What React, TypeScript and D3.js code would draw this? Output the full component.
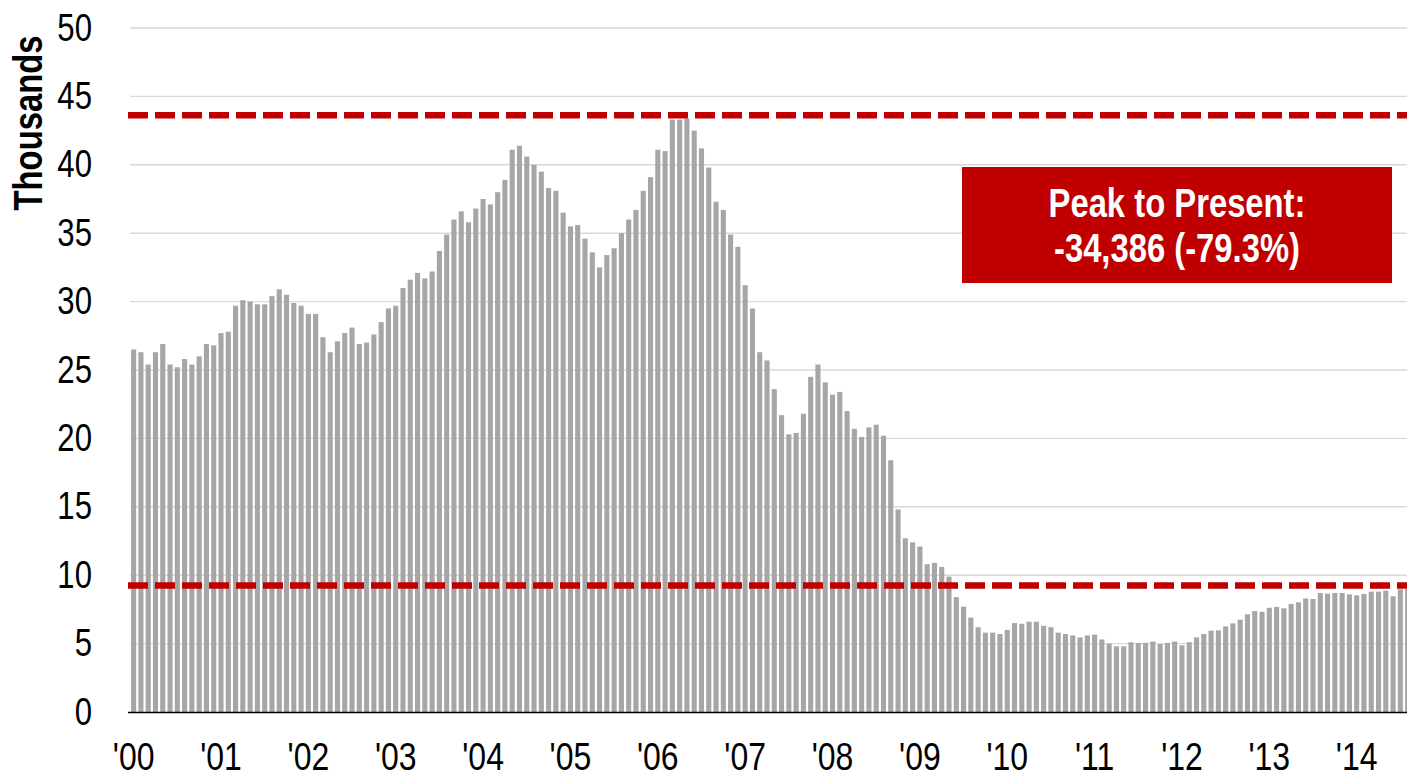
import React from 'react';
import * as d3 from 'd3';

// monthly values, thousands (Jan 2000 - Aug 2014)
const y2000 = [26.5, 26.3, 25.4, 26.3, 26.9, 25.4, 25.2, 25.8, 25.4, 26.0, 26.9, 26.8];
const y2001 = [27.7, 27.8, 29.7, 30.1, 30.0, 29.8, 29.8, 30.4, 30.9, 30.5, 29.9, 29.7];
const y2002 = [29.1, 29.1, 27.4, 26.3, 27.1, 27.7, 28.1, 26.9, 27.0, 27.6, 28.5, 29.5];
const y2003 = [29.7, 31.0, 31.6, 32.1, 31.7, 32.2, 33.7, 34.9, 36.0, 36.6, 35.8, 36.8];
const y2004 = [37.5, 37.1, 38.0, 38.9, 41.1, 41.4, 40.6, 40.0, 39.5, 38.3, 38.1, 36.5];
const y2005 = [35.5, 35.6, 34.6, 33.6, 32.5, 33.4, 33.9, 35.0, 36.0, 36.7, 38.1, 39.1];
const y2006 = [41.1, 41.0, 43.3, 43.3, 43.386, 42.5, 41.2, 39.8, 37.3, 36.7, 34.9, 34.0];
const y2007 = [31.2, 29.5, 26.3, 25.7, 23.6, 21.7, 20.3, 20.4, 21.8, 24.5, 25.4, 24.1];
const y2008 = [23.2, 23.4, 22.0, 20.7, 20.1, 20.8, 21.0, 20.2, 18.4, 14.8, 12.7, 12.4];
const y2009 = [12.1, 10.8, 10.9, 10.6, 9.9, 8.4, 7.7, 6.9, 6.2, 5.8, 5.8, 5.7];
const y2010 = [6.0, 6.5, 6.45, 6.6, 6.6, 6.3, 6.2, 5.8, 5.7, 5.6, 5.45, 5.6];
const y2011 = [5.65, 5.3, 5.0, 4.8, 4.8, 5.1, 5.05, 5.05, 5.15, 4.97, 5.05, 5.15];
const y2012 = [4.87, 5.1, 5.45, 5.7, 5.95, 5.97, 6.26, 6.48, 6.75, 7.14, 7.38, 7.33];
const y2013 = [7.62, 7.68, 7.58, 7.9, 8.02, 8.3, 8.26, 8.7, 8.65, 8.7, 8.7, 8.6];
const y2014 = [8.53, 8.63, 8.8, 8.8, 8.87, 8.46, 8.97, 9.0];

const values = [
  ...y2000, ...y2001, ...y2002, ...y2003, ...y2004, ...y2005, ...y2006, ...y2007,
  ...y2008, ...y2009, ...y2010, ...y2011, ...y2012, ...y2013, ...y2014,
];

const yearLabels = ["'00", "'01", "'02", "'03", "'04", "'05", "'06", "'07", "'08", "'09", "'10", "'11", "'12", "'13", "'14"];
const yTicks = [0, 5, 10, 15, 20, 25, 30, 35, 40, 45, 50];

const peakValue = 43.386;
const presentValue = 9.0;
const calloutLines = ['Peak to Present:', '-34,386 (-79.3%)'];

const months = values.map((_, i) => i);

const font = '"Liberation Sans", Arial, sans-serif';
const narrow = 0.82;

export default function App() {
  const width = 1407, height = 780;
  const left = 130, right = 1407;

  const x = d3.scaleBand<number>()
    .domain(months)
    .range([left, left + 176 * 7.28])
    .paddingInner(0.3)
    .paddingOuter(0.15);

  const y = d3.scaleLinear().domain([0, 50]).range([712, 28]);

  return (
    <svg width={width} height={height} style={{ position: 'absolute', left: 0, top: 0 }}>
      <rect width={width} height={height} fill="#fff" />

      {yTicks.map(t => (
        <g key={t}>
          {t > 0 && <line x1={left} x2={right} y1={y(t)} y2={y(t)} stroke="#d9d9d9" strokeWidth={1.4} />}
          <text transform={`translate(92,${y(t) + 12.5}) scale(${narrow},1)`} textAnchor="end"
            fontFamily={font} fontSize={38} fill="#000">{t}</text>
        </g>
      ))}

      {values.map((v, i) => (
        <rect key={i} x={x(i)} y={y(v)} width={x.bandwidth()} height={y(0) - y(v)} fill="#a6a6a6" />
      ))}

      <line x1={128} x2={right} y1={y(0) + 0.5} y2={y(0) + 0.5} stroke="#000" strokeWidth={1.5} />

      {yearLabels.map((lab, i) => (
        <text key={lab} transform={`translate(${(x(i * 12) ?? 0) + x.bandwidth() / 2},770) scale(${narrow},1)`}
          textAnchor="middle" fontFamily={font} fontSize={39} fill="#000">{lab}</text>
      ))}

      {[peakValue, presentValue].map(v => (
        <line key={v} x1={128} x2={right} y1={y(v) - 3.3} y2={y(v) - 3.3}
          stroke="#c00000" strokeWidth={6.5} strokeDasharray="20 7" />
      ))}

      <text transform={`translate(42,123) rotate(-90) scale(${narrow},1)`} textAnchor="middle"
        fontFamily={font} fontWeight="bold" fontSize={40} fill="#000">Thousands</text>

      <rect x={962} y={167} width={430} height={116} fill="#c00000" />
      {calloutLines.map((l, i) => (
        <text key={l} transform={`translate(1177,${217 + i * 45}) scale(${narrow},1)`} textAnchor="middle"
          fontFamily={font} fontWeight="bold" fontSize={40} fill="#fff">{l}</text>
      ))}
    </svg>
  );
}
